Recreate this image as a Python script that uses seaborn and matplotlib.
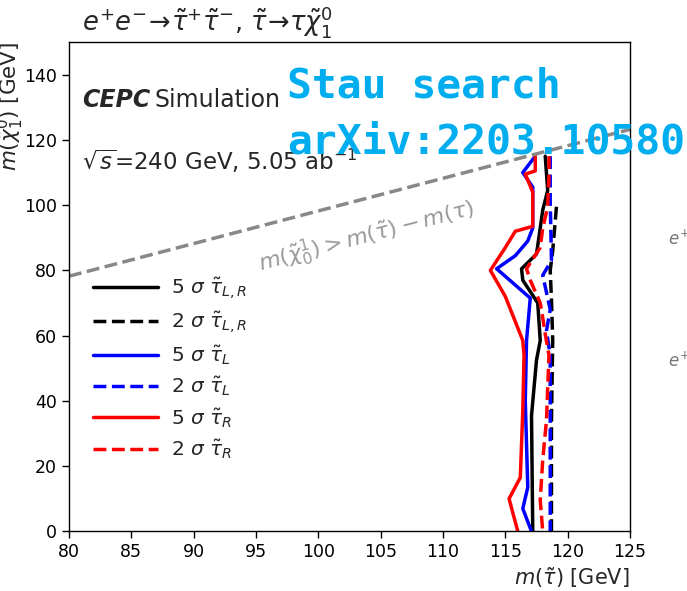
import matplotlib
matplotlib.use("Agg")
import matplotlib.pyplot as plt
import seaborn as sns
import numpy as np
import pandas as pd

# Exclusion / discovery contours: stau mass (x) traced against neutralino mass (y)
m_chi_5s_LR = [115, 104.5, 98.5, 93, 85, 80.5, 77, 70, 58.5, 52.5, 35.5, 0]
m_stau_5s_LR = [118.2, 118.4, 118.0, 117.8, 117.5, 116.3, 116.4, 117.6, 117.8, 117.5, 117.1, 117.2]

m_chi_2s_LR = [99.5, 86, 80, 71, 58.5, 34, 0]
m_stau_2s_LR = [119.1, 118.8, 118.6, 118.7, 118.8, 118.7, 118.7]

m_chi_5s_L = [115, 110, 105.5, 93, 89, 84.5, 80.5, 71.5, 58.5, 40, 13.5, 7, 0]
m_stau_5s_L = [117.4, 116.4, 117.2, 117.2, 116.8, 115.8, 114.3, 117.0, 116.7, 116.6, 116.8, 116.4, 117.1]

m_chi_2s_L = [115, 101.5, 83, 78.5, 71.5, 68, 61.5, 54, 25, 0]
m_stau_2s_L = [118.6, 118.6, 118.7, 118.0, 118.4, 118.6, 118.3, 118.6, 118.6, 118.6]

m_chi_5s_R = [115, 110.5, 109.5, 104, 93.5, 92, 87, 80, 72, 58.5, 54, 37, 16.5, 10, 0]
m_stau_5s_R = [117.4, 117.4, 116.6, 117.2, 117.2, 115.8, 115.0, 113.8, 115.0, 116.4, 116.5, 116.4, 116.2, 115.3, 116.0]

m_chi_2s_R = [115, 109, 99.5, 93, 87, 80.5, 77, 70, 65.5, 60.5, 54, 34, 22, 9.5, 0]
m_stau_2s_R = [118.5, 118.5, 118.4, 118.0, 117.8, 116.7, 117.0, 117.8, 118.0, 118.2, 118.5, 118.3, 118.0, 117.8, 118.0]

labels = [r"5 $\sigma$ $\tilde{\tau}_{L,R}$", r"2 $\sigma$ $\tilde{\tau}_{L,R}$",
          r"5 $\sigma$ $\tilde{\tau}_{L}$", r"2 $\sigma$ $\tilde{\tau}_{L}$",
          r"5 $\sigma$ $\tilde{\tau}_{R}$", r"2 $\sigma$ $\tilde{\tau}_{R}$"]

# Kinematic limit m(chi) = m(stau) - m(tau)
m_tau = 1.777
stau_range = [80, 125]

x_ticks = [80, 85, 90, 95, 100, 105, 110, 115, 120, 125]
y_ticks = [0, 20, 40, 60, 80, 100, 120, 140]

sns.set_style("ticks")
plt.rcParams["font.family"] = ["DejaVu Sans"]
plt.rcParams["mathtext.fontset"] = "dejavusans"

fig = plt.figure(figsize=(6.87, 5.91), dpi=100)
ax = fig.add_axes([69 / 687, (591 - 531.4) / 591, 561 / 687, (531.4 - 42) / 591])

series = [
    (m_stau_5s_LR, m_chi_5s_LR, "black", "-"),
    (m_stau_2s_LR, m_chi_2s_LR, "black", "--"),
    (m_stau_5s_L, m_chi_5s_L, "blue", "-"),
    (m_stau_2s_L, m_chi_2s_L, "blue", "--"),
    (m_stau_5s_R, m_chi_5s_R, "red", "-"),
    (m_stau_2s_R, m_chi_2s_R, "red", "--"),
]
handles = []
for (xs, ys, col, ls), lab in zip(series, labels):
    df = pd.DataFrame({"m_stau": xs, "m_chi": ys})
    sns.lineplot(data=df, x="m_stau", y="m_chi", sort=False, estimator=None,
                 color=col, linestyle=ls, linewidth=2.5, ax=ax, label=lab, legend=False)
    handles.append(ax.lines[-1])

# diagonal kinematic boundary
diag = pd.DataFrame({"x": stau_range, "y": [v - m_tau for v in stau_range]})
sns.lineplot(data=diag, x="x", y="y", color="#888888", linestyle="--", linewidth=2.5,
             ax=ax, legend=False)
ax.text(103.9, 90.4, r"$m(\tilde{\chi}^1_0) > m(\tilde{\tau}) - m(\tau)$", color="#999999",
        fontsize=16, rotation=14.7, ha="center", va="center", rotation_mode="anchor")

ax.set_xlim(80, 125)
ax.set_ylim(0, 150)
ax.set_xticks(x_ticks)
ax.set_yticks(y_ticks)
ax.tick_params(axis="both", direction="out", length=5, width=1, labelsize=12.5, colors="black")
for s in ax.spines.values():
    s.set_color("black")
    s.set_linewidth(1.0)

ax.set_xlabel(r"$m(\tilde{\tau})$ [GeV]", loc="right", fontsize=15, labelpad=3)
ax.set_ylabel(r"$m(\tilde{\chi}_1^0)$ [GeV]", loc="top", fontsize=15.5)
ax.yaxis.set_label_coords(-0.076, 1.0)

leg = ax.legend(handles=handles, labels=labels, loc="upper left",
                bbox_to_anchor=(0.0428, 0.523), frameon=False, fontsize=14.5,
                handlelength=3.25, handletextpad=0.6, borderpad=0, borderaxespad=0,
                labelspacing=0.39)

fig.text(82 / 687, 1 - 22 / 591,
         r"$e^{+}e^{-}\!\rightarrow\!\tilde{\tau}^{+}\tilde{\tau}^{-}$, $\tilde{\tau}\!\rightarrow\!\tau\tilde{\chi}_1^0$",
         fontsize=18.5, ha="left", va="center")

# Experiment tag
t1 = ax.text(0.023, 0.867, "CEPC", transform=ax.transAxes, fontsize=17,
             fontweight="bold", fontstyle="italic", ha="left", va="baseline")
fig.canvas.draw()
bb = t1.get_window_extent().transformed(ax.transAxes.inverted())
ax.text(bb.x1 + 0.008, 0.867, "Simulation", transform=ax.transAxes, fontsize=17,
        ha="left", va="baseline")
ax.text(0.023, 0.739, r"$\sqrt{s}$=240 GeV, 5.05 ab$^{-1}$", transform=ax.transAxes,
        fontsize=16.5, ha="left", va="baseline")

# Overlay label
fig.text(287 / 687, 1 - 97 / 591, "Stau search", color="#00AEEF", fontsize=29.8,
         fontweight="bold", family="DejaVu Sans Mono", ha="left", va="baseline")
fig.text(287 / 687, 1 - 153 / 591, "arXiv:2203.10580", color="#00AEEF", fontsize=29.8,
         fontweight="bold", family="DejaVu Sans Mono", ha="left", va="baseline")

# neighbouring panel edge
fig.text(668 / 687, 1 - 245 / 591, r"$e^{+}$", color="#777777", fontsize=12,
         family="serif", ha="left", va="baseline")
fig.text(668 / 687, 1 - 367 / 591, r"$e^{+}$", color="#777777", fontsize=12,
         family="serif", ha="left", va="baseline")

fig.savefig("out.png", dpi=100)
